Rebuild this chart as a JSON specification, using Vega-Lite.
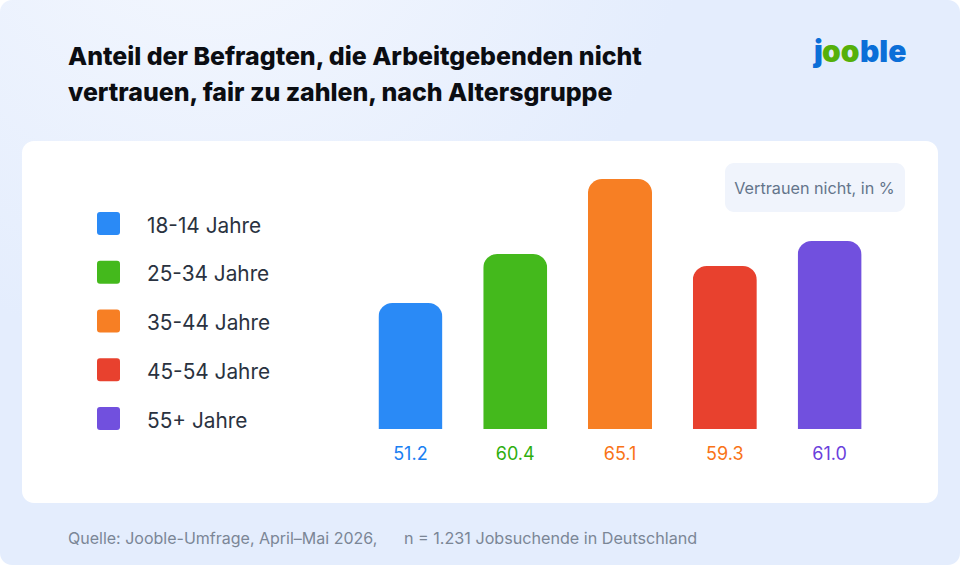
{
  "$schema": "https://vega.github.io/schema/vega-lite/v6.json",
  "width": 916,
  "height": 362,
  "autosize": "none",
  "padding": {"left": 22, "top": 141, "right": 22, "bottom": 62},
  "background": "#ffffff",
  "view": {"stroke": null},
  "datasets": {
    "bars": [
      {"group": "18-14 Jahre", "share": 51.2},
      {"group": "25-34 Jahre", "share": 60.4},
      {"group": "35-44 Jahre", "share": 65.1},
      {"group": "45-54 Jahre", "share": 59.3},
      {"group": "55+ Jahre", "share": 61.0}
    ]
  },
  "data": {"name": "bars"},
  "encoding": {
    "x": {
      "field": "group",
      "type": "nominal",
      "sort": null,
      "axis": null,
      "scale": {"range": [336, 860], "paddingInner": 0.389, "paddingOuter": 0.1945}
    },
    "y": {
      "field": "share",
      "type": "quantitative",
      "axis": null,
      "scale": {
        "domain": [0, 51.2, 59.3, 60.4, 61.0, 65.1],
        "range": [288, 162, 125, 113, 100, 38],
        "nice": false
      }
    }
  },
  "layer": [
    {
      "data": {"values": [{}]},
      "mark": {
        "type": "rect",
        "cornerRadius": 12,
        "clip": false,
        "fill": {
          "gradient": "radial",
          "x1": 0.22, "y1": 0.08, "r1": 0,
          "x2": 0.22, "y2": 0.08, "r2": 0.5,
          "stops": [
            {"offset": 0, "color": "#f5f8fe"},
            {"offset": 1, "color": "#e4edfd"}
          ]
        }
      },
      "encoding": {
        "x": {"value": -22},
        "x2": {"value": 938},
        "y": {"value": -141},
        "y2": {"value": 424}
      }
    },
    {
      "data": {"values": [{}]},
      "mark": {"type": "rect", "fill": "#ffffff", "cornerRadius": 12},
      "encoding": {
        "x": {"value": 0},
        "x2": {"value": 916},
        "y": {"value": 0},
        "y2": {"value": 362}
      }
    },
    {
      "mark": {
        "type": "bar",
        "cornerRadiusTopLeft": 14,
        "cornerRadiusTopRight": 14,
        "strokeWidth": 0
      },
      "encoding": {
        "color": {
          "field": "group",
          "type": "nominal",
          "sort": null,
          "scale": {"range": ["#2a8af6", "#44b91c", "#f77f24", "#e8412e", "#7150de"]},
          "legend": {
            "orient": "none",
            "legendX": 75,
            "legendY": 74,
            "title": null,
            "symbolType": "M-0.74,-1.26H0.74Q1,-1.26 1,-1V0.48Q1,0.74 0.74,0.74H-0.74Q-1,0.74 -1,0.48V-1Q-1,-1.26 -0.74,-1.26Z",
            "symbolSize": 529,
            "symbolOpacity": 1,
            "symbolStrokeWidth": 0,
            "rowPadding": 23.75,
            "labelFont": "Inter",
            "labelFontSize": 20.8,
            "labelColor": "#2a3240",
            "labelOffset": 27
          }
        }
      }
    },
    {
      "mark": {"type": "text", "font": "Inter", "fontSize": 18, "dy": 26},
      "encoding": {
        "y": {"datum": 0},
        "text": {"field": "share", "type": "quantitative", "format": ".1f"},
        "color": {
          "field": "group",
          "type": "nominal",
          "sort": null,
          "scale": {"range": ["#1a80f2", "#2fae0e", "#f97316", "#f97316", "#6a3fdc"]},
          "legend": null
        }
      }
    },
    {
      "data": {"values": [{"label": ["Anteil der Befragten, die Arbeitgebenden nicht", "vertrauen, fair zu zahlen, nach Altersgruppe"]}]},
      "mark": {"type": "text", "font": "Inter", "fontSize": 24.9, "fontWeight": 800, "color": "#0b0d12", "lineHeight": 36, "align": "left", "baseline": "alphabetic"},
      "encoding": {
        "x": {"value": 46},
        "y": {"value": -76},
        "text": {"field": "label"}
      }
    },
    {
      "data": {"values": [{}]},
      "mark": {"type": "rect", "fill": "#f0f4fc", "cornerRadius": 9},
      "encoding": {
        "x": {"value": 703},
        "x2": {"value": 883},
        "y": {"value": 22},
        "y2": {"value": 71}
      }
    },
    {
      "data": {"values": [{"label": "Vertrauen nicht, in %"}]},
      "mark": {"type": "text", "font": "Inter", "fontSize": 16.2, "color": "#64748b", "align": "center", "baseline": "middle"},
      "encoding": {
        "x": {"value": 792.5},
        "y": {"value": 48},
        "text": {"field": "label"}
      }
    },
    {
      "data": {"values": [{"label": "Quelle: Jooble-Umfrage, April–Mai 2026,"}]},
      "mark": {"type": "text", "font": "Inter", "fontSize": 16, "color": "#7b8696", "align": "left", "baseline": "alphabetic"},
      "encoding": {
        "x": {"value": 46},
        "y": {"value": 402.5},
        "text": {"field": "label"}
      }
    },
    {
      "data": {"values": [{"label": "n = 1.231 Jobsuchende in Deutschland"}]},
      "mark": {"type": "text", "font": "Inter", "fontSize": 16.15, "color": "#7b8696", "align": "left", "baseline": "alphabetic"},
      "encoding": {
        "x": {"value": 382},
        "y": {"value": 402.5},
        "text": {"field": "label"}
      }
    },
    {
      "data": {"values": [{"label": "j"}]},
      "mark": {"type": "text", "font": "Inter", "fontSize": 30, "fontWeight": 900, "color": "#0b6fd8", "align": "left", "baseline": "alphabetic"},
      "encoding": {
        "x": {"value": 792},
        "y": {"value": -79.5},
        "text": {"field": "label"}
      }
    },
    {
      "data": {"values": [{"label": "oo"}]},
      "mark": {"type": "text", "font": "Inter", "fontSize": 30, "fontWeight": 900, "color": "#55b00a", "align": "left", "baseline": "alphabetic"},
      "encoding": {
        "x": {"value": 800},
        "y": {"value": -79.5},
        "text": {"field": "label"}
      }
    },
    {
      "data": {"values": [{"label": "ble"}]},
      "mark": {"type": "text", "font": "Inter", "fontSize": 30, "fontWeight": 900, "color": "#0b6fd8", "align": "left", "baseline": "alphabetic"},
      "encoding": {
        "x": {"value": 838},
        "y": {"value": -79.5},
        "text": {"field": "label"}
      }
    }
  ],
  "resolve": {"scale": {"color": "independent"}}
}
